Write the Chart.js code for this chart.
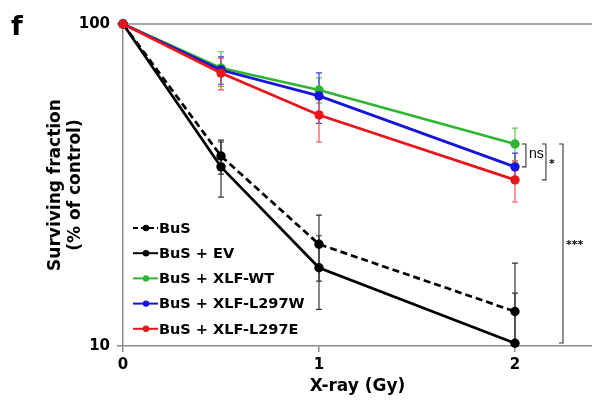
<!DOCTYPE html>
<html><head><meta charset="utf-8">
<script src="https://cdn.jsdelivr.net/npm/chart.js@4.4.0/dist/chart.umd.min.js"></script>
<style>html,body{margin:0;padding:0;background:#fff;}</style>
</head><body>
<canvas id="c" width="592" height="402"></canvas>
<script>
// ---- data ----
const doses = [0, 0.5, 1, 2];
const xTicks = [0, 1, 2];
const yTicks = [10, 100];
const seriesLabels = ['BuS', 'BuS + EV', 'BuS + XLF-WT', 'BuS + XLF-L297W', 'BuS + XLF-L297E'];
const busVals   = [100, 38.9, 20.7, 12.8];
const busErr    = [0, 4.7, 4.8, 5.3];
const evVals    = [100, 36.0, 17.5, 10.2];
const evErr     = [0, 7.0, 4.5, 4.4];
const wtVals    = [100, 73.0, 62.4, 42.4];
const wtErr     = [0, 9.0, 5.6, 5.1];
const l297wVals = [100, 72.0, 59.8, 36.0];
const l297wErr  = [0, 7.0, 10.7, 3.7];
const l297eVals = [100, 70.4, 52.2, 32.8];
const l297eErr  = [0, 8.0, 9.2, 4.8];
// significance brackets: [label, x (Gy), from series index, to series index]
const sigLabels = ['ns', '*', '***'];
const sigX = [2.056, 2.158, 2.245];
const sigFrom = [2, 2, 2];
const sigTo = [3, 4, 1];

const colors = ['#000000', '#000000', '#2fb52f', '#1414dc', '#e6161c'];
const errColors = ['#333333', '#333333', '#55c855', '#3a3ae6', '#ee5055'];
const dashes = [[7, 4], [], [], [], []];
const vals = [busVals, evVals, wtVals, l297wVals, l297eVals];
const errs = [busErr, evErr, wtErr, l297wErr, l297eErr];
const drawOrder = [5, 4, 3, 2, 1];

const FONT = "'DejaVu Sans', Verdana, sans-serif";

const datasets = seriesLabels.map((lab, i) => ({
  label: lab,
  data: doses.map((d, j) => ({x: d, y: vals[i][j]})),
  borderColor: colors[i],
  backgroundColor: colors[i],
  pointBackgroundColor: colors[i],
  pointBorderColor: colors[i],
  borderWidth: 2.7,
  borderDash: dashes[i],
  pointRadius: 4.7,
  pointBorderWidth: 0,
  tension: 0,
  clip: false,
  order: drawOrder[i],
  errs: errs[i]
}));

const errorBars = {
  id: 'errorBars',
  beforeDatasetsDraw(chart) {
    const {ctx, chartArea, scales: {x, y}} = chart;
    ctx.save();
    ctx.beginPath();
    ctx.rect(chartArea.left - 5, chartArea.top - 5, chartArea.right - chartArea.left + 10, chartArea.bottom - chartArea.top + 5);
    ctx.clip();
    chart.data.datasets.forEach((ds, i) => {
      ds.data.forEach((p, j) => {
        const e = ds.errs[j];
        if (!e) return;
        const px = x.getPixelForValue(p.x);
        const yt = y.getPixelForValue(p.y + e);
        const lo = p.y - e;
        const yb = lo > 0 ? y.getPixelForValue(lo) : chartArea.bottom + 20;
        ctx.strokeStyle = errColors[i];
        ctx.lineWidth = 1.2;
        ctx.beginPath();
        ctx.moveTo(px, yt); ctx.lineTo(px, yb);
        ctx.moveTo(px - 3, yt); ctx.lineTo(px + 3, yt);
        ctx.moveTo(px - 3, yb); ctx.lineTo(px + 3, yb);
        ctx.stroke();
      });
    });
    ctx.restore();
  }
};

const extras = {
  id: 'extras',
  beforeDraw(chart) {
    const {ctx, chartArea} = chart;
    ctx.save();
    ctx.strokeStyle = '#8c8c8c';
    ctx.lineWidth = 1.5;
    ctx.beginPath();
    ctx.moveTo(chartArea.left, chartArea.top);
    ctx.lineTo(chart.width, chartArea.top);
    ctx.stroke();
    ctx.restore();
  },
  afterDraw(chart) {
    const {ctx, chartArea, scales: {x, y}} = chart;
    ctx.save();
    // panel letter
    ctx.fillStyle = '#000';
    ctx.font = 'bold 27px ' + FONT;
    ctx.textBaseline = 'alphabetic';
    ctx.textAlign = 'left';
    ctx.fillText('f', 11, 35);
    // legend
    const lx = chartArea.left + 10, ly = chartArea.top + 204, step = 25.2;
    chart.data.datasets.forEach((ds, i) => {
      const yy = ly + i * step;
      ctx.strokeStyle = ds.borderColor;
      ctx.lineWidth = 2;
      ctx.setLineDash(ds.borderDash.length ? [5, 3] : []);
      ctx.beginPath();
      ctx.moveTo(lx, yy); ctx.lineTo(lx + 25, yy);
      ctx.stroke();
      ctx.setLineDash([]);
      ctx.fillStyle = ds.borderColor;
      ctx.beginPath();
      ctx.arc(lx + 13, yy, 3.2, 0, Math.PI * 2);
      ctx.fill();
      ctx.fillStyle = '#000';
      ctx.font = 'bold 14.5px ' + FONT;
      ctx.textBaseline = 'middle';
      ctx.fillText(ds.label, lx + 26, yy + 1);
    });
    // significance brackets
    const ds = chart.data.datasets;
    sigLabels.forEach((lab, k) => {
      const px = x.getPixelForValue(sigX[k]);
      const y1 = y.getPixelForValue(ds[sigFrom[k]].data[3].y);
      const y2 = Math.min(y.getPixelForValue(ds[sigTo[k]].data[3].y), chartArea.bottom - 3);
      ctx.strokeStyle = '#333';
      ctx.lineWidth = 1.1;
      ctx.beginPath();
      ctx.moveTo(px - 4, y1); ctx.lineTo(px, y1); ctx.lineTo(px, y2); ctx.lineTo(px - 4, y2);
      ctx.stroke();
      ctx.fillStyle = '#000';
      ctx.textAlign = 'left';
      ctx.textBaseline = 'middle';
      if (k === 0) { ctx.font = '14px ' + "'Liberation Sans', Arial, sans-serif"; ctx.fillText(lab, px + 3, (y1 + y2) / 2 - 1); }
      else { ctx.font = 'bold 11px ' + FONT; ctx.fillText(lab, px + 3, (y1 + y2) / 2 + 2); }
    });
    ctx.restore();
  }
};

new Chart(document.getElementById('c'), {
  type: 'line',
  data: {datasets},
  plugins: [errorBars, extras],
  options: {
    responsive: false,
    animation: false,
    devicePixelRatio: 1,
    layout: {autoPadding: false, padding: {top: 24, right: 0, left: 0, bottom: 0}},
    plugins: {legend: {display: false}, tooltip: {enabled: false}},
    scales: {
      x: {
        type: 'linear', min: 0, max: 2.393,
        afterBuildTicks: s => { s.ticks = xTicks.map(v => ({value: v})); },
        afterFit: s => { s.height = 56; },
        grid: {display: true, drawOnChartArea: false, drawTicks: true, tickLength: 6, color: '#8c8c8c', lineWidth: 1.5},
        border: {display: true, color: '#8c8c8c', width: 1.5},
        ticks: {color: '#000', font: {family: FONT, weight: 'bold', size: 15}, padding: 4, maxRotation: 0,
                callback: v => String(v)},
        title: {display: true, text: 'X-ray (Gy)', color: '#000', font: {family: FONT, weight: 'bold', size: 17}, padding: {top: 0, bottom: 5}}
      },
      y: {
        type: 'logarithmic', min: 10, max: 100,
        afterBuildTicks: s => { s.ticks = yTicks.map(v => ({value: v})); },
        afterFit: s => { s.width = 123; },
        grid: {display: true, drawOnChartArea: false, drawTicks: true, tickLength: 6, color: '#8c8c8c', lineWidth: 1.5},
        border: {display: true, color: '#8c8c8c', width: 1.5},
        ticks: {color: '#000', font: {family: FONT, weight: 'bold', size: 15}, padding: 7,
                callback: v => String(v)},
        title: {display: true, text: ['Surviving fraction', '(% of control)'], color: '#000',
                font: {family: FONT, weight: 'bold', size: 17, lineHeight: 1.2}, padding: {top: 45, bottom: 0}}
      }
    }
  }
});
</script>
</body></html>
